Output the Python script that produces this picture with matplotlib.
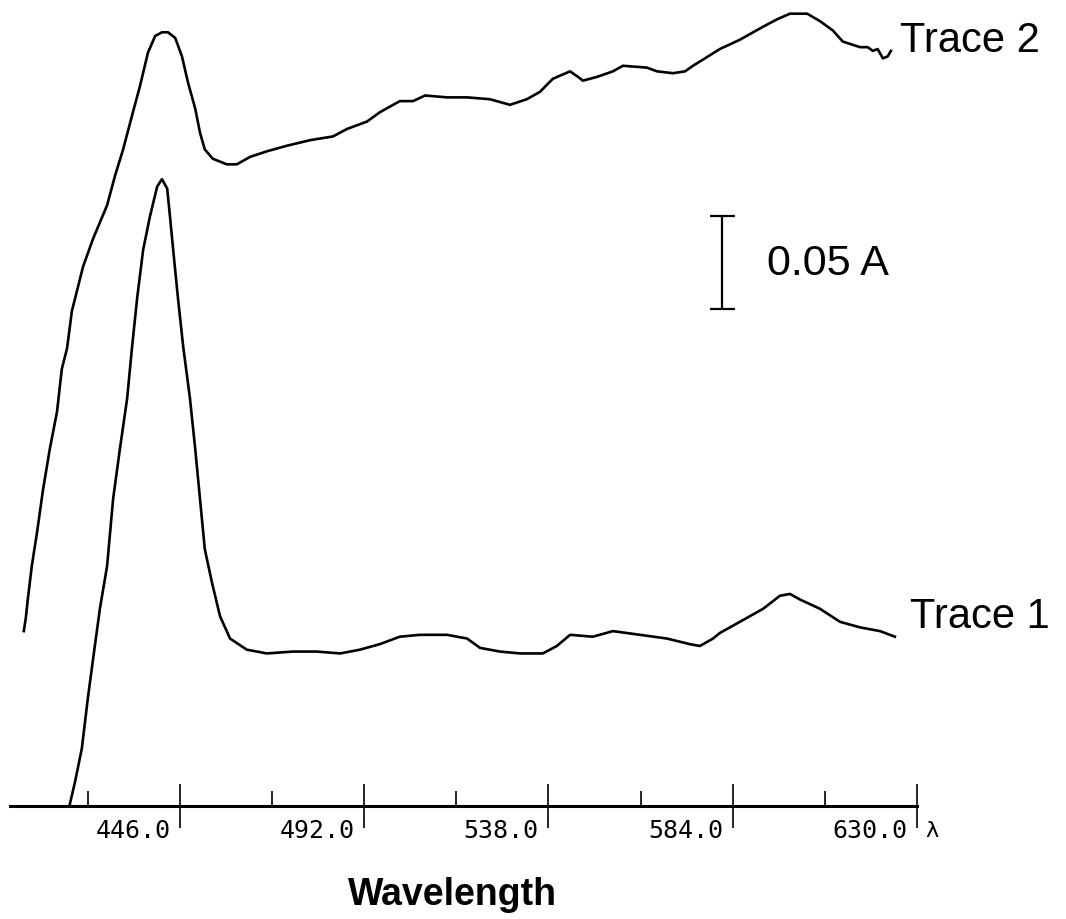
import matplotlib
matplotlib.use("Agg")
import matplotlib.pyplot as plt

# absorbance spectra, baseline-referenced (A), wavelength in nm
wl_trace1 = [418.5, 419.8, 421.5, 423.0, 424.3, 426.0, 427.8, 429.3, 431.0, 432.8,
             434.0, 435.3, 436.8, 438.5, 440.3, 441.5, 442.8, 443.5, 444.3, 445.5,
             446.8, 448.5, 449.8, 451.0, 452.2, 454.0, 456.0, 458.5, 462.7, 467.7,
             474.2, 480.2, 486.0, 490.9, 495.9, 500.9, 505.9, 512.7, 517.7, 520.9,
             525.9, 530.9, 536.6, 540.1, 543.4, 549.1, 554.1, 560.9, 567.6, 573.3,
             575.8, 579.1, 580.8, 585.8, 591.6, 595.8, 598.3, 600.8, 605.8, 610.8,
             615.8, 620.8, 624.5]
abs_trace1 = [0.001, 0.013, 0.031, 0.058, 0.079, 0.106, 0.129, 0.165, 0.192, 0.219,
              0.246, 0.273, 0.299, 0.317, 0.333, 0.337, 0.332, 0.317, 0.299, 0.273,
              0.247, 0.219, 0.192, 0.165, 0.138, 0.120, 0.102, 0.090, 0.084, 0.082,
              0.083, 0.083, 0.082, 0.084, 0.087, 0.091, 0.092, 0.092, 0.090, 0.085,
              0.083, 0.082, 0.082, 0.086, 0.092, 0.091, 0.094, 0.092, 0.090, 0.087,
              0.086, 0.090, 0.093, 0.099, 0.106, 0.113, 0.114, 0.111, 0.106, 0.099,
              0.096, 0.094, 0.091]

wl_trace2 = [407.0, 407.5, 408.0, 409.0, 410.3, 411.8, 413.5, 415.3, 416.5, 417.8,
             419.0, 421.8, 424.3, 427.8, 429.8, 431.8, 434.0, 436.0, 438.0, 439.8,
             441.5, 443.0, 444.8, 446.5, 448.0, 449.8, 451.0, 452.2, 454.2, 457.7,
             460.2, 463.5, 467.7, 472.7, 478.5, 484.2, 487.7, 492.7, 495.9, 500.9,
             504.2, 507.2, 512.7, 517.7, 523.4, 528.4, 532.6, 535.9, 539.1, 543.4,
             545.4, 546.6, 550.1, 554.1, 556.6, 562.6, 565.1, 569.1, 572.1, 574.1,
             577.1, 580.8, 585.8, 591.6, 595.1, 598.3, 602.6, 605.8, 609.0, 611.5,
             615.8, 617.7, 619.0, 620.2, 621.5, 622.7, 623.5]
abs_trace2 = [0.094, 0.101, 0.111, 0.129, 0.147, 0.170, 0.192, 0.212, 0.235, 0.246,
              0.266, 0.290, 0.305, 0.323, 0.339, 0.353, 0.371, 0.387, 0.405, 0.414,
              0.416, 0.416, 0.413, 0.403, 0.389, 0.375, 0.362, 0.353, 0.348, 0.345,
              0.345, 0.349, 0.352, 0.355, 0.358, 0.360, 0.364, 0.368, 0.373, 0.379,
              0.379, 0.382, 0.381, 0.381, 0.380, 0.377, 0.380, 0.384, 0.391, 0.395,
              0.392, 0.390, 0.392, 0.395, 0.398, 0.397, 0.395, 0.394, 0.395, 0.398,
              0.402, 0.407, 0.412, 0.419, 0.423, 0.426, 0.426, 0.422, 0.417, 0.411,
              0.408, 0.408, 0.406, 0.407, 0.402, 0.403, 0.406]

major_ticks = [446.0, 492.0, 538.0, 584.0, 630.0]
minor_ticks = [423.0, 469.0, 515.0, 561.0, 607.0]
tick_labels = ["446.0", "492.0", "538.0", "584.0", "630.0"]

scale_bar = 0.05       # absorbance span of the scale bar
scale_bar_base = 0.267

plt.rcParams['font.family'] = ['Liberation Sans', 'DejaVu Sans']

fig = plt.figure(figsize=(10.66, 9.2), dpi=100)
ax = fig.add_axes([0, 0, 1, 1])
ax.set_xlim(401.06, 667.23)
ax.set_ylim(-0.0608, 0.4339)

ax.plot(wl_trace1, abs_trace1, color='black', lw=1.9)
ax.plot(wl_trace2, abs_trace2, color='black', lw=1.9)

# wavelength axis drawn as a bare baseline
for side in ['left', 'right', 'top']:
    ax.spines[side].set_visible(False)
ax.spines['bottom'].set_position(('data', 0))
ax.spines['bottom'].set_bounds(403.5, 630.0)
ax.spines['bottom'].set_linewidth(2.2)
ax.set_yticks([])
ax.set_xticks(major_ticks)
ax.set_xticks(minor_ticks, minor=True)
ax.set_xticklabels([])
ax.tick_params(axis='x', which='major', direction='inout', length=31, width=1.2)
ax.tick_params(axis='x', which='minor', direction='in', length=11, width=1.2)

for t, lab in zip(major_ticks, tick_labels):
    ax.annotate(lab, xy=(t, 0), xytext=(-7, -17), textcoords='offset points',
                ha='right', va='center', fontsize=18, family='DejaVu Sans Mono')
ax.annotate('λ', xy=(major_ticks[-1], 0), xytext=(6, -17), textcoords='offset points',
            ha='left', va='center', fontsize=16, family='DejaVu Sans Mono')

ax.text(514.0, -0.0473, 'Wavelength', ha='center', va='center',
        fontsize=27, fontweight='bold')

ax.text(625.8, 0.412, 'Trace 2', ha='left', va='center', fontsize=30)
ax.text(628.3, 0.102, 'Trace 1', ha='left', va='center', fontsize=30)

# absorbance scale bar
ax.errorbar([581.3], [scale_bar_base + scale_bar / 2], yerr=scale_bar / 2,
            color='black', lw=1.6, capsize=9, capthick=1.6, fmt='none')
ax.text(592.6, scale_bar_base + scale_bar / 2, '0.05 A', ha='left', va='center',
        fontsize=31)

fig.savefig('out.png', dpi=100)
